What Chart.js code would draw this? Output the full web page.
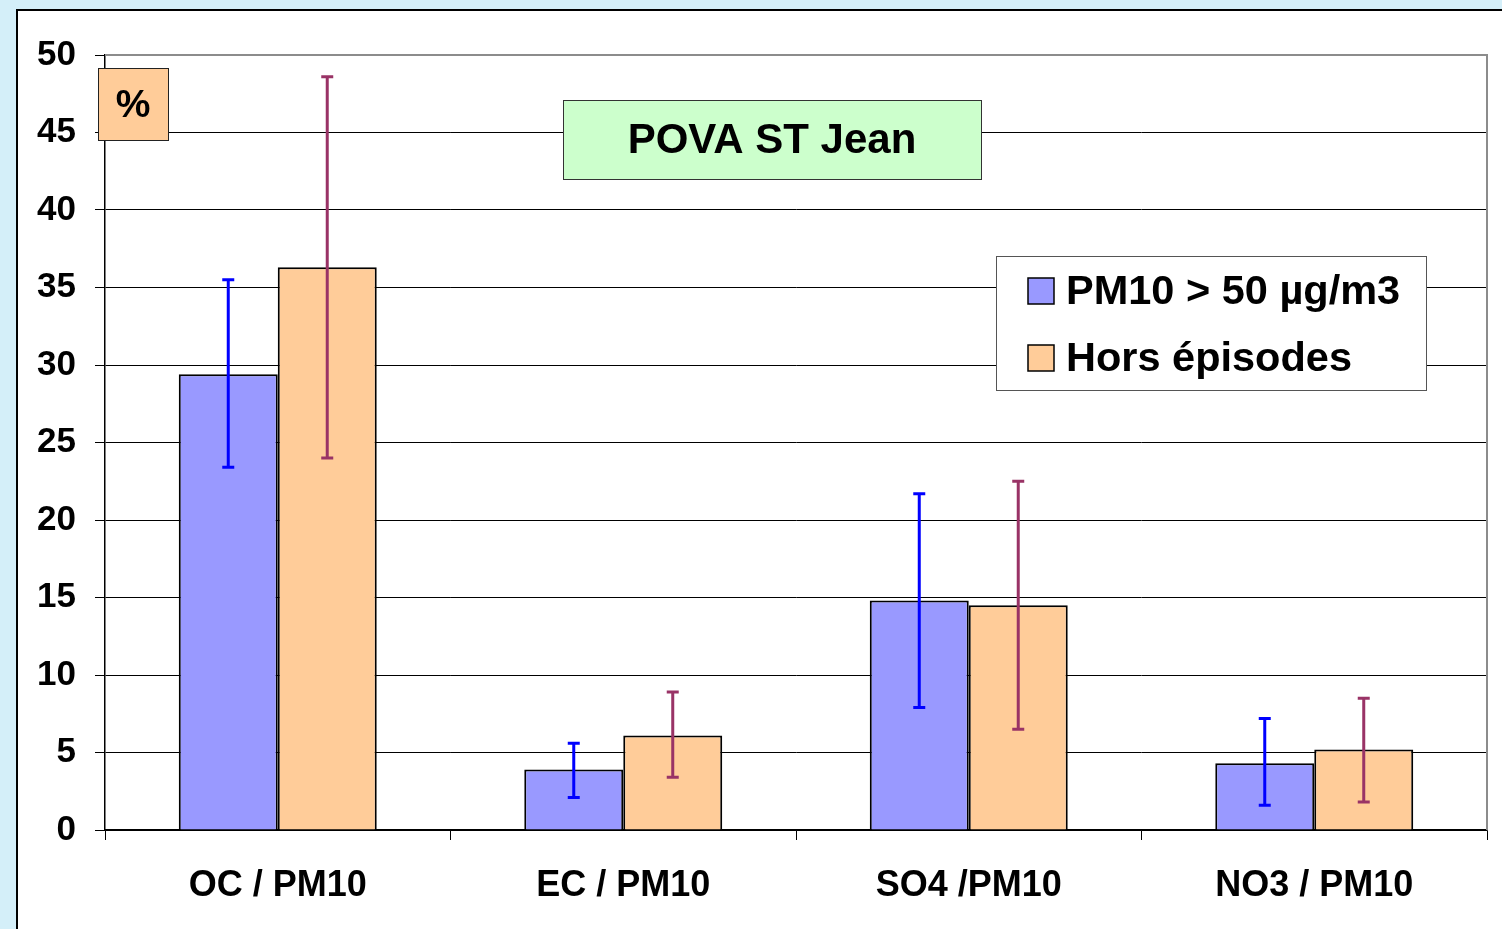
<!DOCTYPE html>
<html>
<head>
<meta charset="utf-8">
<script src="https://cdn.jsdelivr.net/npm/chart.js@4.4.1/dist/chart.umd.min.js"></script>
<style>
  html, body { margin: 0; padding: 0; }
  body { width: 1502px; height: 929px; background: #d4eff9; position: relative; overflow: hidden; }
  #panel { position: absolute; left: 16px; top: 9px; right: 0; bottom: 0; background: #fff;
           border-top: 2px solid #000; border-left: 2px solid #000; }
  #wrap { position: absolute; left: 0; top: 0; width: 1502px; height: 929px; }
</style>
</head>
<body>
<div id="panel"></div>
<div id="wrap"><canvas id="chart" width="1502" height="929"></canvas></div>
<script>
const categories = ["OC / PM10", "EC / PM10", "SO4 /PM10", "NO3 / PM10"];
const seriesNames = ["PM10 > 50 µg/m3", "Hors épisodes"];
const episodeValues = [29.4, 3.9, 14.8, 4.3];
const episodeHigh = [35.5, 5.6, 21.7, 7.2];
const episodeLow = [23.4, 2.1, 7.9, 1.6];
const horsValues = [36.3, 6.1, 14.5, 5.2];
const horsHigh = [48.6, 8.9, 22.5, 8.5];
const horsLow = [24.0, 3.4, 6.5, 1.8];
const yTicks = [0, 5, 10, 15, 20, 25, 30, 35, 40, 45, 50];
const titleText = "POVA ST Jean";
const unitText = "%";

const FONT = "'Liberation Sans', Arial, sans-serif";

const errorBars = [
  { high: episodeHigh, low: episodeLow, color: "#0000ff" },
  { high: horsHigh, low: horsLow, color: "#993366" }
];

const errorBarPlugin = {
  id: "errorBars",
  afterDatasetsDraw(chart) {
    const ctx = chart.ctx;
    const y = chart.scales.y;
    errorBars.forEach((eb, di) => {
      const meta = chart.getDatasetMeta(di);
      meta.data.forEach((bar, i) => {
        const top = y.getPixelForValue(eb.high[i]);
        const bot = y.getPixelForValue(eb.low[i]);
        ctx.save();
        ctx.strokeStyle = eb.color;
        ctx.lineWidth = 3;
        ctx.beginPath();
        ctx.moveTo(bar.x, top); ctx.lineTo(bar.x, bot);
        ctx.moveTo(bar.x - 6, top); ctx.lineTo(bar.x + 6, top);
        ctx.moveTo(bar.x - 6, bot); ctx.lineTo(bar.x + 6, bot);
        ctx.stroke();
        ctx.restore();
      });
    });
  }
};

const boxesPlugin = {
  id: "boxes",
  afterDraw(chart) {
    const ctx = chart.ctx;
    const a = chart.chartArea;
    ctx.save();
    // plot frame top/right
    ctx.strokeStyle = "#8c8c8c";
    ctx.lineWidth = 2;
    ctx.beginPath();
    ctx.moveTo(a.left, a.top); ctx.lineTo(a.right, a.top); ctx.lineTo(a.right, a.bottom);
    ctx.stroke();

    // unit box
    ctx.fillStyle = "#ffcc99";
    ctx.fillRect(98, 68, 70, 72);
    ctx.strokeStyle = "#222";
    ctx.lineWidth = 1;
    ctx.strokeRect(98.5, 68.5, 70, 72);
    ctx.fillStyle = "#000";
    ctx.font = "bold 39px " + FONT;
    ctx.textAlign = "center";
    ctx.textBaseline = "middle";
    ctx.fillText(unitText, 133, 106);

    // title box
    ctx.fillStyle = "#ccffcc";
    ctx.fillRect(563, 100, 418, 79);
    ctx.strokeStyle = "#333";
    ctx.strokeRect(563.5, 100.5, 418, 79);
    ctx.fillStyle = "#000";
    ctx.font = "bold 42px " + FONT;
    ctx.fillText(titleText, 772, 141);

    // legend
    ctx.fillStyle = "#fff";
    ctx.fillRect(996, 256, 430, 134);
    ctx.strokeStyle = "#555";
    ctx.strokeRect(996.5, 256.5, 430, 134);
    const sw = [["#9999ff", 291], ["#ffcc99", 358]];
    ctx.font = "bold 41.5px " + FONT;
    ctx.textAlign = "left";
    sw.forEach((s, i) => {
      ctx.fillStyle = s[0];
      ctx.fillRect(1028, s[1] - 13, 26, 26);
      ctx.strokeStyle = "#000";
      ctx.lineWidth = 1.5;
      ctx.strokeRect(1028, s[1] - 13, 26, 26);
      ctx.fillStyle = "#000";
      ctx.fillText(seriesNames[i], 1066, s[1] + 2);
    });
    ctx.restore();
  }
};

new Chart(document.getElementById("chart"), {
  type: "bar",
  data: {
    labels: categories,
    datasets: [
      { label: seriesNames[0], data: episodeValues, backgroundColor: "#9999ff",
        borderColor: "#000", borderWidth: 2, categoryPercentage: 0.573, barPercentage: 1 },
      { label: seriesNames[1], data: horsValues, backgroundColor: "#ffcc99",
        borderColor: "#000", borderWidth: 2, categoryPercentage: 0.573, barPercentage: 1 }
    ]
  },
  options: {
    responsive: false,
    animation: false,
    layout: { padding: { left: 0, right: 15, top: 55, bottom: 0 } },
    plugins: { legend: { display: false }, tooltip: { enabled: false } },
    scales: {
      x: {
        afterFit(s) { s.height = 99; },
        grid: { display: true, drawOnChartArea: false, color: "#000", tickLength: 10, offset: true },
        border: { color: "#000", width: 1.5 },
        ticks: { color: "#000", font: { family: FONT, size: 36, weight: "bold" }, padding: 24 }
      },
      y: {
        min: 0, max: 50,
        afterFit(s) { s.width = 105; },
        afterBuildTicks(s) { s.ticks = yTicks.map(v => ({ value: v })); },
        grid: { color: "#000", lineWidth: 1, tickLength: 10 },
        border: { color: "#000", width: 1.5 },
        ticks: { color: "#000", font: { family: FONT, size: 35, weight: "bold" }, padding: 19 }
      }
    }
  },
  plugins: [errorBarPlugin, boxesPlugin]
});
</script>
</body>
</html>
